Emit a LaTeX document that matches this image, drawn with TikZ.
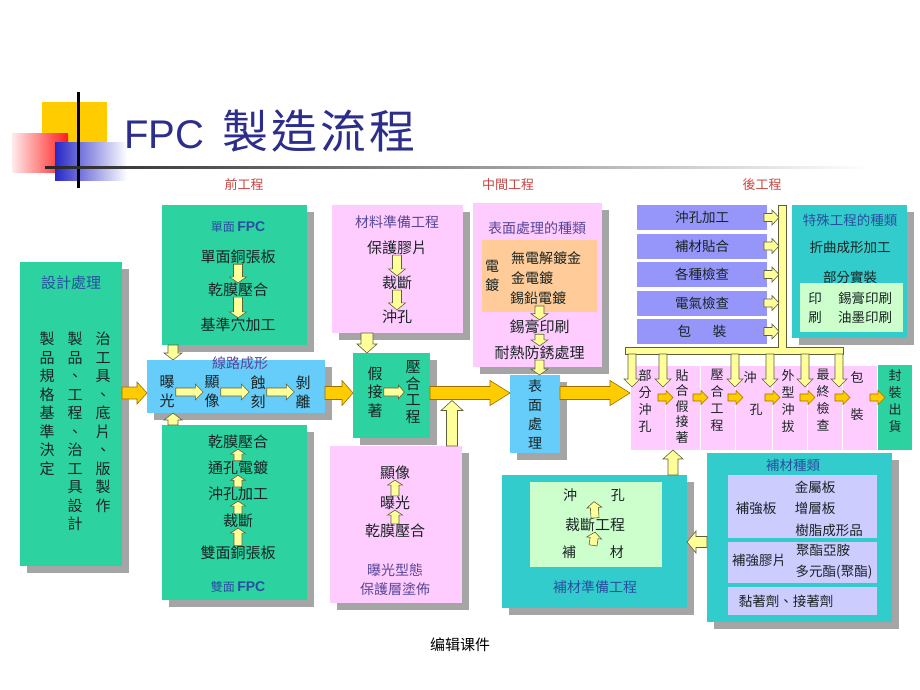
\documentclass[tikz,border=0pt]{standalone}
\usepackage{fontspec}
\setmainfont{Noto Sans CJK TC}
\newfontfamily\lib{Liberation Sans}
\newfontfamily\scfont{Noto Sans CJK SC}
\usetikzlibrary{calc,shadows}
\definecolor{tgreen}{RGB}{44,211,160}
\definecolor{cblue}{RGB}{102,204,250}
\definecolor{pinkc}{RGB}{255,204,255}
\definecolor{orangec}{RGB}{255,204,153}
\definecolor{purpc}{RGB}{150,150,250}
\definecolor{tealc}{RGB}{51,204,204}
\definecolor{lgreen}{RGB}{204,255,204}
\definecolor{lavc}{RGB}{204,204,255}
\definecolor{shadowc}{RGB}{165,165,165}
\definecolor{yfill}{RGB}{255,255,153}
\definecolor{yout}{RGB}{95,95,60}
\definecolor{gfill}{RGB}{255,204,0}
\definecolor{gout}{RGB}{160,110,0}
\definecolor{txt}{RGB}{25,35,35}
\definecolor{tblue}{RGB}{40,80,160}
\definecolor{tpurp}{RGB}{85,70,150}
\definecolor{tred}{RGB}{200,70,70}
\definecolor{titc}{RGB}{45,45,140}
\definecolor{yel}{RGB}{255,204,0}
\definecolor{blueD}{RGB}{40,40,200}
\def\arrbw{4}\def\arrbh{8}\def\arrbl{7}
\tikzset{
 aw/.code={\def\arrbw{#1}},
 ah/.code={\def\arrbh{#1}},
 al/.code={\def\arrbl{#1}},
 blk/.style={to path={let \p1=(\tikztostart), \p2=(\tikztotarget),
   \n1={veclen(\x2-\x1,\y2-\y1)}, \n2={(\x2-\x1)/\n1}, \n3={(\y2-\y1)/\n1} in
   ({\x1-(\n3)*\arrbw},{\y1+(\n2)*\arrbw})
   -- ({\x2-(\n2)*\arrbl-(\n3)*\arrbw},{\y2-(\n3)*\arrbl+(\n2)*\arrbw})
   -- ({\x2-(\n2)*\arrbl-(\n3)*\arrbh},{\y2-(\n3)*\arrbl+(\n2)*\arrbh})
   -- (\p2)
   -- ({\x2-(\n2)*\arrbl+(\n3)*\arrbh},{\y2-(\n3)*\arrbl-(\n2)*\arrbh})
   -- ({\x2-(\n2)*\arrbl+(\n3)*\arrbw},{\y2-(\n3)*\arrbl-(\n2)*\arrbw})
   -- ({\x1+(\n3)*\arrbw},{\y1-(\n2)*\arrbw}) -- cycle}},
 box/.style={rectangle, inner sep=0pt, outer sep=0pt, anchor=north west},
 shd/.style={drop shadow={shadow xshift=7pt, shadow yshift=-7pt, fill=shadowc, opacity=1}},
 tx/.style={inner sep=0pt, text=txt, font=\fontsize{15}{17}\selectfont},
 tsm/.style={inner sep=1pt, text=txt, font=\fontsize{13.5}{16}\selectfont},
 vtx/.style={inner sep=1pt, text=txt, align=center},
 sec/.style={inner sep=1pt, text=tred, font=\fontsize{13}{15}\selectfont},
 yarr/.style={blk, draw=yout, fill=yfill, line width=0.6pt, line join=miter},
 garr/.style={blk, draw=gout, fill=gfill, line width=0.6pt, line join=miter},
}
\begin{document}
\begin{tikzpicture}[x=1pt,y=-1pt]
\fill[white] (0,0) rectangle (920,690);
\useasboundingbox (0,0) rectangle (920,690);

% title decoration
\fill[yel] (42,102) rectangle (107,150);
\shade[left color=red!8, right color=red!90] (12,133) rectangle (68,172);
\shade[left color=blueD, right color=white] (55,142) rectangle (127,180);
\fill[black] (77,92) rectangle (79.5,188);
\shade[left color=black!85, right color=white] (45,166) rectangle (870,168.5);
\node[anchor=base west, inner sep=0pt, text=titc] (title) at (124,148)
  {{\lib\fontsize{40}{40}\selectfont FPC}\hspace{18pt}{\fontsize{46}{46}\selectfont 製\kern3pt 造\kern3pt 流\kern3pt 程}};

% section labels
\node[sec] (lab1) at (244,185) {前工程};
\node[sec] (lab2) at (508,185) {中間工程};
\node[sec] (lab3) at (762,185) {後工程};

% boxes
\node[box,shd,fill=tgreen,minimum width=102pt,minimum height=304pt] (design) at (20,262) {};
\node[box,shd,fill=tgreen,minimum width=145pt,minimum height=140pt] (sfpc) at (162,205) {};
\node[box,shd,fill=cblue,minimum width=178pt,minimum height=53pt] (circ) at (147,360) {};
\node[box,shd,fill=tgreen,minimum width=145pt,minimum height=175pt] (dfpc) at (162,425) {};
\node[box,shd,fill=pinkc,minimum width=131pt,minimum height=128pt] (mat) at (332,205) {};
\node[box,shd,fill=tgreen,minimum width=77pt,minimum height=85pt] (lam) at (353,353) {};
\node[box,shd,fill=pinkc,minimum width=132pt,minimum height=157pt] (cover) at (330,446) {};
\node[box,shd,fill=pinkc,minimum width=129pt,minimum height=164pt] (surf) at (473,203) {};
\node[box,fill=orangec,minimum width=115pt,minimum height=72pt] (plate) at (482,240) {};
\node[box,shd,fill=cblue,minimum width=50pt,minimum height=78pt] (sblue) at (510,375) {};
\node[box,shd,fill=tealc,minimum width=115pt,minimum height=133pt] (spec) at (792,205) {};
\node[box,fill=lgreen,minimum width=103pt,minimum height=49pt] (print) at (800,283) {};
\node[box,shd,fill=tealc,minimum width=185pt,minimum height=169pt] (sub) at (707,453) {};
\node[box,fill=lavc,minimum width=149pt,minimum height=63pt] (sub1) at (728,475) {};
\node[box,fill=lavc,minimum width=149pt,minimum height=41pt] (sub2) at (728,542) {};
\node[box,fill=lavc,minimum width=149pt,minimum height=28pt] (sub3) at (728,587) {};
\node[box,shd,fill=tealc,minimum width=185pt,minimum height=133pt] (prep) at (502,475) {};
\node[box,fill=lgreen,minimum width=132pt,minimum height=85pt] (prepin) at (530,482) {};

% purple bars
\node[box,fill=purpc,minimum width=130pt,minimum height=25pt,tsm] (b1) at (637,205) {沖孔加工};
\node[box,fill=purpc,minimum width=130pt,minimum height=25pt,tsm] (b2) at (637,233.5) {補材貼合};
\node[box,fill=purpc,minimum width=130pt,minimum height=25pt,tsm] (b3) at (637,262) {各種檢查};
\node[box,fill=purpc,minimum width=130pt,minimum height=25pt,tsm] (b4) at (637,290.5) {電氣檢查};
\node[box,fill=purpc,minimum width=130pt,minimum height=25pt,tsm] (b5) at (637,319) {包\hspace{1.6em}裝};

% row cells
\node[box,fill=pinkc,draw=white,line width=0.8pt,minimum width=35pt,minimum height=85pt] (r1) at (630,365) {};
\node[box,fill=pinkc,draw=white,line width=0.8pt,minimum width=35pt,minimum height=85pt] (r2) at (665,365) {};
\node[box,fill=pinkc,draw=white,line width=0.8pt,minimum width=35pt,minimum height=85pt] (r3) at (700,365) {};
\node[box,fill=pinkc,draw=white,line width=0.8pt,minimum width=37pt,minimum height=85pt] (r4) at (735,365) {};
\node[box,fill=pinkc,draw=white,line width=0.8pt,minimum width=35pt,minimum height=85pt] (r5) at (772,365) {};
\node[box,fill=pinkc,draw=white,line width=0.8pt,minimum width=35pt,minimum height=85pt] (r6) at (807,365) {};
\node[box,fill=pinkc,draw=white,line width=0.8pt,minimum width=35pt,minimum height=85pt] (r7) at (842,365) {};
\node[box,fill=tgreen,minimum width=34pt,minimum height=85pt] (r8) at (878,365) {};

% design box texts
\node[tx,text=tblue] (dt) at (71,283) {設計處理};
\node[vtx,anchor=north,font=\fontsize{15}{18.5}\selectfont] (dc1) at (103,331) {治\\工\\具\\、\\底\\片\\、\\版\\製\\作};
\node[vtx,anchor=north,font=\fontsize{15}{18.5}\selectfont] (dc2) at (75,331) {製\\品\\、\\工\\程\\、\\治\\工\\具\\設\\計};
\node[vtx,anchor=north,font=\fontsize{15}{18.5}\selectfont] (dc3) at (47,331) {製\\品\\規\\格\\基\\準\\決\\定};

% single FPC
\node[tx,text=tblue] (st) at (238,227) {{\fontsize{12}{14}\selectfont 單面}\,{\lib\bfseries\fontsize{14}{16}\selectfont FPC}};
\node[tx] (s1) at (238,257) {單面銅張板};
\node[tx] (s2) at (238,290) {乾膜壓合};
\node[tx] (s3) at (238,325) {基準穴加工};

% circuit forming
\node[tx,text=tpurp,font=\fontsize{14}{16}\selectfont] (ct) at (240,363) {線路成形};
\node[vtx,font=\fontsize{15}{19}\selectfont] (c1) at (167,392) {曝\\光};
\node[vtx,font=\fontsize{15}{19}\selectfont] (c2) at (212,392) {顯\\像};
\node[vtx,font=\fontsize{15}{19}\selectfont] (c3) at (258,392) {蝕\\刻};
\node[vtx,font=\fontsize{15}{19}\selectfont] (c4) at (303,392) {剝\\離};

% double FPC
\node[tx] (d1) at (238,442) {乾膜壓合};
\node[tx] (d2) at (238,468) {通孔電鍍};
\node[tx] (d3) at (238,494) {沖孔加工};
\node[tx] (d4) at (238,521) {裁斷};
\node[tx] (d5) at (238,553) {雙面銅張板};
\node[tx,text=tblue] (dft) at (238,587) {{\fontsize{12}{14}\selectfont 雙面}\,{\lib\bfseries\fontsize{14}{16}\selectfont FPC}};

% material preparation
\node[tx,text=tpurp,font=\fontsize{14}{16}\selectfont] (mt) at (397,222) {材料準備工程};
\node[tx] (m1) at (397,248) {保護膠片};
\node[tx] (m2) at (397,283) {裁斷};
\node[tx] (m3) at (397,317) {沖孔};

% lamination
\node[vtx,font=\fontsize{15}{18.5}\selectfont] (l1) at (375,392) {假\\接\\著};
\node[vtx,font=\fontsize{15}{16.5}\selectfont] (l2) at (413,392) {壓\\合\\工\\程};

% coverlay
\node[tx] (p1) at (395,473) {顯像};
\node[tx] (p2) at (395,503) {曝光};
\node[tx] (p3) at (395,531) {乾膜壓合};
\node[tx,text=tpurp,font=\fontsize{14}{16}\selectfont] (pt1) at (395,570) {曝光型態};
\node[tx,text=tpurp,font=\fontsize{14}{16}\selectfont] (pt2) at (395,589) {保護層塗佈};

% surface treatment
\node[tx,text=tpurp,font=\fontsize{14}{16}\selectfont] (sft) at (537,228) {表面處理的種類};
\node[vtx,font=\fontsize{14}{19}\selectfont] (ev) at (492,276) {電\\鍍};
\node[tx,font=\fontsize{14}{16}\selectfont] (e1) at (546,258) {無電解鍍金};
\node[tx,font=\fontsize{14}{16}\selectfont] (e2) at (532,278) {金電鍍};
\node[tx,font=\fontsize{14}{16}\selectfont] (e3) at (538,298) {錫鉛電鍍};
\node[tx] (sf1) at (539.5,327) {錫膏印刷};
\node[tx] (sf2) at (539.5,353) {耐熱防銹處理};
\node[vtx,font=\fontsize{14}{19}\selectfont] (sbt) at (535,414) {表\\面\\處\\理};

% special processes
\node[tsm,text=tblue] (spt) at (850,220) {特殊工程的種類};
\node[tsm] (sp1) at (850,247) {折曲成形加工};
\node[tsm] (sp2) at (850,277) {部分實裝};
\node[vtx,font=\fontsize{13.5}{19}\selectfont] (pr) at (815,308) {印\\刷};
\node[tsm] (sp3) at (865,298) {錫膏印刷};
\node[tsm] (sp4) at (865,317) {油墨印刷};

% row texts
\node[vtx,anchor=north,font=\fontsize{13}{17}\selectfont] (rt1) at (645,368) {部\\分\\沖\\孔};
\node[vtx,anchor=north,font=\fontsize{13}{15.5}\selectfont] (rt2) at (682,368) {貼\\合\\假\\接\\著};
\node[vtx,anchor=north,font=\fontsize{13}{17}\selectfont] (rt3) at (717,368) {壓\\合\\工\\程};
\node[tsm,font=\fontsize{13}{15}\selectfont] (rt4a) at (750,378) {沖};
\node[tsm,font=\fontsize{13}{15}\selectfont] (rt4b) at (756,410) {孔};
\node[vtx,anchor=north,font=\fontsize{13}{17}\selectfont] (rt5) at (788,368) {外\\型\\沖\\拔};
\node[vtx,anchor=north,font=\fontsize{13}{17}\selectfont] (rt6) at (823,368) {最\\終\\檢\\查};
\node[tsm,font=\fontsize{13}{15}\selectfont] (rt7a) at (857,377) {包};
\node[tsm,font=\fontsize{13}{15}\selectfont] (rt7b) at (857,415) {裝};
\node[vtx,anchor=north,font=\fontsize{13}{17}\selectfont] (rt8) at (895,368) {封\\裝\\出\\貨};

% sub-material kinds
\node[tsm,text=tblue] (bt) at (793,465) {補材種類};
\node[tsm] (bk1) at (756,508) {補強板};
\node[tsm] (bm1a) at (815,487) {金屬板};
\node[tsm] (bm1b) at (815,508) {增層板};
\node[tsm] (bm1c) at (829,530) {樹脂成形品};
\node[tsm] (bk2) at (759,560) {補強膠片};
\node[tsm] (bp1) at (823,550) {聚酯亞胺};
\node[tsm] (bp2) at (834,572) {多元酯(聚酯)};
\node[tsm] (bk3) at (786,601) {黏著劑、接著劑};

% sub-material preparation
\node[tx,font=\fontsize{14}{16}\selectfont] (bm1) at (594,495) {沖\hspace{2.4em}孔};
\node[tx] (bm2) at (595,525) {裁斷工程};
\node[tx,font=\fontsize{14}{16}\selectfont] (bm3) at (593,552) {補\hspace{2.4em}材};
\node[tx,text=tblue,font=\fontsize{14}{16}\selectfont] (bmt) at (595,587) {補材準備工程};

% caption
\node[inner sep=1pt,text=black,font=\scfont\fontsize{15}{17}\selectfont] (cap) at (460,645) {编辑课件};

% helper coordinates
\coordinate (mainline) at (0,393);
\coordinate (cx) at (173,0);
\coordinate (mx) at (367,0);
\coordinate (ua) at (452,446);
\coordinate (ub) at (452,400.5);
\coordinate (upx) at (673,0);
\coordinate (ly) at (0,542);

% main gold arrows
\draw[garr,aw=6,ah=11,al=10] (design.east |- mainline) to (circ.west |- mainline);
\draw[garr,aw=6.5,ah=12.5,al=11] (circ.east |- mainline) to (lam.west |- mainline);
\draw[garr,aw=6.5,ah=12.5,al=20] (lam.east |- mainline) to (sblue.west |- mainline);
\draw[garr,aw=6.5,ah=12.5,al=20] (sblue.east |- mainline) to (r1.west |- mainline);

% yellow arrows, front process
\draw[yarr,aw=5,ah=9,al=7] (cx |- sfpc.south) to (cx |- circ.north);
\draw[yarr,aw=5,ah=9,al=7] (cx |- dfpc.north) to (cx |- circ.south);
\draw[yarr,aw=4.5,ah=8.5,al=6] (s1.south) to (s2.north);
\draw[yarr,aw=4.5,ah=8.5,al=6] (s2.south) to (s3.north);
\draw[yarr,aw=4,ah=8,al=8] (c1.east) to (c2.west);
\draw[yarr,aw=4,ah=8,al=8] (c2.east) to (c3.west);
\draw[yarr,aw=4,ah=8,al=8] (c3.east) to (c4.west);
\draw[yarr,aw=4,ah=7.5,al=5] (d2.north) to (d1.south);
\draw[yarr,aw=4,ah=7.5,al=5] (d3.north) to (d2.south);
\draw[yarr,aw=4,ah=7.5,al=5] (d4.north) to (d3.south);
\draw[yarr,aw=4,ah=7.5,al=5] (d5.north) to (d4.south);

% middle process
\draw[yarr,aw=6,ah=10,al=9] (mx |- mat.south) to (mx |- lam.north);
\draw[yarr,aw=4.5,ah=8.5,al=7] (m1.south) to (m2.north);
\draw[yarr,aw=4.5,ah=8.5,al=7] (m2.south) to (m3.north);
\draw[yarr,aw=4,ah=7,al=6] (l1.east) to (l2.west);
\draw[yarr,aw=5.5,ah=11,al=10] (ua) to (ub);
\draw[yarr,aw=4,ah=7.5,al=5] (p2.north) to (p1.south);
\draw[yarr,aw=4,ah=7.5,al=5] (p3.north) to (p2.south);
\draw[yarr,aw=4.5,ah=8.5,al=6] ($(plate.south)+(0,-6)$) to (sf1.north);
\draw[yarr,aw=4.5,ah=8.5,al=6] (sf1.south) to (sf2.north);
\draw[yarr,aw=4.5,ah=8.5,al=6] (sf2.south) to (sf2.south |- sblue.north);

% back process bus
\filldraw[fill=yfill,draw=yout,line width=0.6pt] (625,347) -- (778,347) -- (778,205) -- (786,205) -- (786,347) -- (843,347) -- (843,354) -- (625,354) -- cycle;
\draw[yarr,aw=4,ah=7.5,al=7] ($(b1.east)+(-3,0)$) to ($(b1.east)+(12,0)$);
\draw[yarr,aw=4,ah=7.5,al=7] ($(b2.east)+(-3,0)$) to ($(b2.east)+(12,0)$);
\draw[yarr,aw=4,ah=7.5,al=7] ($(b3.east)+(-3,0)$) to ($(b3.east)+(12,0)$);
\draw[yarr,aw=4,ah=7.5,al=7] ($(b4.east)+(-3,0)$) to ($(b4.east)+(12,0)$);
\draw[yarr,aw=4,ah=7.5,al=7] ($(b5.east)+(-3,0)$) to ($(b5.east)+(12,0)$);
\coordinate (bd1) at (632,354);
\coordinate (bd2) at (663,354);
\coordinate (bd3) at (735,354);
\coordinate (bd4) at (770,354);
\coordinate (bd5) at (805,354);
\coordinate (bd6) at (839,354);
\foreach \k in {1,...,6}{
  \draw[yarr,aw=4,ah=8,al=8] (bd\k) to ($(bd\k)+(0,33)$);
}

% small gold arrows in the row
\draw[garr,aw=3.5,ah=7,al=7] ($(r1.east)+(-7,-10)$) to ($(r1.east)+(8,-10)$);
\draw[garr,aw=3.5,ah=7,al=7] ($(r2.east)+(-7,-10)$) to ($(r2.east)+(8,-10)$);
\draw[garr,aw=3.5,ah=7,al=7] ($(r3.east)+(-7,-10)$) to ($(r3.east)+(8,-10)$);
\draw[garr,aw=3.5,ah=7,al=7] ($(r4.east)+(-7,-10)$) to ($(r4.east)+(8,-10)$);
\draw[garr,aw=3.5,ah=7,al=7] ($(r5.east)+(-7,-10)$) to ($(r5.east)+(8,-10)$);
\draw[garr,aw=3.5,ah=7,al=7] ($(r6.east)+(-7,-10)$) to ($(r6.east)+(8,-10)$);
\draw[garr,aw=3.5,ah=7,al=7] ($(r7.east)+(-7,-10)$) to ($(r7.east)+(8,-10)$);

% sub-material arrows
\draw[yarr,aw=5,ah=10,al=9] (upx |- prep.north) to (upx |- r2.south);
\draw[yarr,aw=5.5,ah=11,al=9] (sub.west |- ly) to (prep.east |- ly);
\draw[yarr,aw=4,ah=7.5,al=6] (bm3.north) to (bm2.south);
\draw[yarr,aw=4,ah=7.5,al=6] (bm2.north) to (bm1.south);
\end{tikzpicture}
\end{document}
